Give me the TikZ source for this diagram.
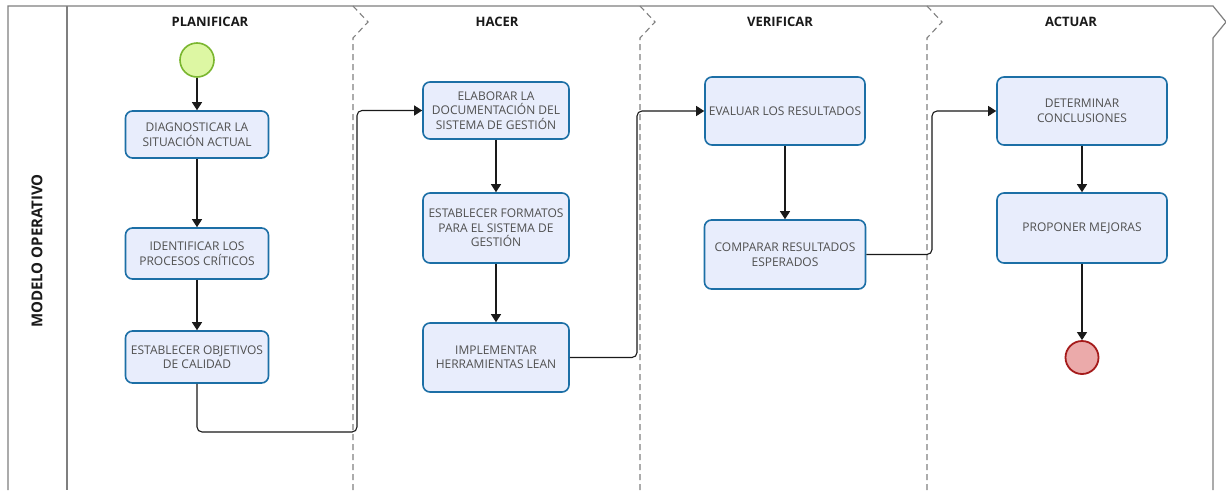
\documentclass[tikz,border=0pt]{standalone}
\usepackage{fontspec}
\setmainfont{Open Sans}
\usetikzlibrary{arrows.meta}

\definecolor{taskfill}{HTML}{E8EDFC}
\definecolor{taskline}{HTML}{1C6FA6}
\definecolor{tasktext}{HTML}{505050}
\definecolor{flowline}{HTML}{1A1A1A}
\definecolor{poolline}{HTML}{7F7F7F}
\definecolor{lanesep}{HTML}{808080}
\definecolor{startfill}{HTML}{DDF7A3}
\definecolor{startline}{HTML}{7AB62F}
\definecolor{endfill}{HTML}{EBAAAA}
\definecolor{endline}{HTML}{A51B1B}
\definecolor{titletext}{HTML}{1A1A1A}

\begin{document}
\begin{tikzpicture}[x=1pt,y=-1pt,
  task/.style={draw=taskline, fill=taskfill, line width=1.6pt, rounded corners=7pt,
    align=center, text=tasktext, font=\fontsize{12}{14.5}\selectfont, inner sep=2pt},
  flow/.style={draw=flowline, line width=1.1pt, rounded corners=5pt,
    -{Triangle[length=8pt,width=10pt]}},
  lanetitle/.style={font=\fontsize{13}{15}\selectfont\bfseries, text=titletext},
  pooltitle/.style={font=\fontsize{15}{17}\selectfont\bfseries, text=titletext},
  startevent/.style={circle, draw=startline, fill=startfill, line width=1.6pt, minimum size=34pt, inner sep=0pt},
  endevent/.style={circle, draw=endline, fill=endfill, line width=1.8pt, minimum size=33pt, inner sep=0pt},
  poolborder/.style={draw=poolline, line width=1.2pt},
  laneborder/.style={draw=lanesep, line width=1.1pt, dash pattern=on 6pt off 4pt}]

\useasboundingbox (0,0) rectangle (1226,490);
\fill[white] (0,0) rectangle (1226,490);

% pool frame and label strip
\draw[poolborder] (8,490) -- (8,6) -- (1213,6) -- (1226,22) -- (1213,38) -- (1213,490);
\draw[poolborder] (67,6) -- (67,490);

% lane separators
\foreach \x in {353,640,927}
  \draw[laneborder] (\x,6) -- (\x+15,22) -- (\x,38) -- (\x,490);

% titles
\node[pooltitle, rotate=90] (pool) at (37,251) {MODELO OPERATIVO};
\node[lanetitle] (tplan) at (210,22) {PLANIFICAR};
\node[lanetitle] (thacer) at (497,22) {HACER};
\node[lanetitle] (tverif) at (780,22) {VERIFICAR};
\node[lanetitle] (tact) at (1071,22) {ACTUAR};

% PLANIFICAR
\node[startevent] (start) at (197,60) {};
\node[task, minimum width=143pt, minimum height=47pt] (diag) at (197,134.5) {DIAGNOSTICAR LA\\SITUACIÓN ACTUAL};
\node[task, minimum width=143pt, minimum height=51pt] (ident) at (197,253.5) {IDENTIFICAR LOS\\PROCESOS CRÍTICOS};
\node[task, minimum width=143pt, minimum height=52pt] (obj) at (197,357) {ESTABLECER OBJETIVOS\\DE CALIDAD};

% HACER
\node[task, minimum width=146pt, minimum height=57pt] (elab) at (496,110.5) {ELABORAR LA\\DOCUMENTACIÓN DEL\\SISTEMA DE GESTIÓN};
\node[task, minimum width=146pt, minimum height=70pt] (form) at (496,228) {ESTABLECER FORMATOS\\PARA EL SISTEMA DE\\GESTIÓN};
\node[task, minimum width=146pt, minimum height=69pt] (impl) at (496,357.5) {IMPLEMENTAR\\HERRAMIENTAS LEAN};

% VERIFICAR
\node[task, minimum width=160pt, minimum height=68pt] (eval) at (785,111) {EVALUAR LOS RESULTADOS};
\node[task, minimum width=161pt, minimum height=69pt] (comp) at (785,254.5) {COMPARAR RESULTADOS\\ESPERADOS};

% ACTUAR
\node[task, minimum width=170pt, minimum height=68pt] (det) at (1082,111) {DETERMINAR\\CONCLUSIONES};
\node[task, minimum width=170pt, minimum height=70pt] (prop) at (1082,228) {PROPONER MEJORAS};
\node[endevent] (end) at (1082,357.5) {};

% routing points of the lane-crossing flows
\coordinate (b1) at (357,432);
\coordinate (b2) at (637,111);
\coordinate (b3) at (932,111);

% sequence flows
\draw[flow] (start) -- (diag);
\draw[flow] (diag) -- (ident);
\draw[flow] (ident) -- (obj);
\draw[flow] (obj.south) |- (b1) |- (elab.west);
\draw[flow] (elab) -- (form);
\draw[flow] (form) -- (impl);
\draw[flow] (impl.east) -| (b2) -- (eval.west);
\draw[flow] (eval) -- (comp);
\draw[flow] (comp.east) -| (b3) -- (det.west);
\draw[flow] (det) -- (prop);
\draw[flow] (prop) -- (end);

\end{tikzpicture}
\end{document}
